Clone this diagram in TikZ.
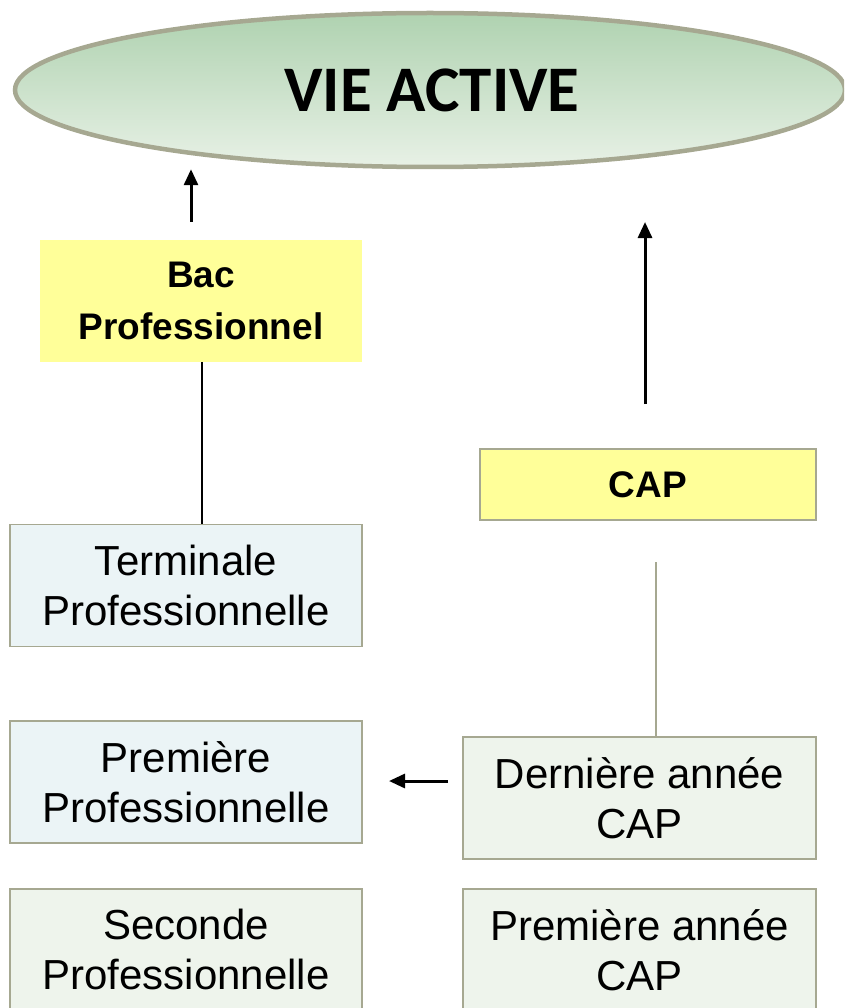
\documentclass[tikz,border=0pt]{standalone}
\usepackage{fontspec}
\setmainfont{Liberation Sans}
\newfontfamily\calibri{Carlito}
\usetikzlibrary{shapes.geometric,arrows.meta}
\definecolor{rim}{HTML}{A6A891}
\definecolor{ovaltop}{HTML}{AFD2B0}
\definecolor{ovalbot}{HTML}{E8F1E6}
\definecolor{diplome}{HTML}{FFFF99}
\definecolor{lycee}{HTML}{EBF4F6}
\definecolor{cap}{HTML}{EEF4EC}
\begin{document}
\begin{tikzpicture}[x=1pt,y=-1pt,
    stage/.style={draw=rim, line width=1.5pt, minimum width=352pt,
      minimum height=122pt, align=center, inner sep=0pt,
      font=\fontsize{42}{50}\selectfont},
    exam/.style={fill=diplome, align=center, inner sep=0pt,
      font=\bfseries\fontsize{37}{52}\selectfont},
    up/.style={-{Triangle[length=16pt,width=14pt]}, line width=3pt}]
  \useasboundingbox (0,0) rectangle (844,1008);
  \clip (0,0) rectangle (844,1008);
  % goal
  \node[ellipse, draw=rim, line width=4.5pt, top color=ovaltop, bottom color=ovalbot,
    minimum width=830pt, minimum height=154pt,
    font=\calibri\bfseries\fontsize{65}{70}\selectfont] (vie) at (430,90) {\hspace*{4pt}VIE ACTIVE};
  % diplomas
  \node[exam, minimum width=322pt, minimum height=122pt] (bac) at (201,301) {Bac\\Professionnel};
  \node[exam, draw=rim, line width=1.5pt, minimum width=336pt, minimum height=71pt] (cap) at (648,484.5) {CAP};
  % years
  \node[stage, fill=lycee] (term) at (186,585.5) {Terminale\\Professionnelle};
  \node[stage, fill=lycee] (prem) at (186,782) {Première\\Professionnelle};
  \node[stage, fill=cap, anchor=north] (sec) at (186,888) {Seconde\\Professionnelle};
  \node[stage, fill=cap, minimum width=353pt] (dern) at (639.5,798) {Dernière année\\CAP};
  \node[stage, fill=cap, minimum width=353pt, anchor=north] (pcap) at (639.5,888) {Première année\\CAP};
  % free ends
  \coordinate (bacup) at (191,222);
  \coordinate (capfoot) at (645,404);
  \coordinate (captip) at (645,222);
  \coordinate (capstub) at (656,562);
  \coordinate (bridge) at (448,781);
  \coordinate (bridgetip) at (389,781);
  \begin{scope}
    \draw[up] (bacup) to (bacup |- vie.south);
    \draw[up] (capfoot) to (captip);
    \draw[up] (bridge) to (bridgetip);
    \draw[line width=1.5pt] (bac.south -| 202,0) to (term.north -| 202,0);
    \draw[rim, line width=1.5pt] (capstub) to (capstub |- dern.north);
  \end{scope}
\end{tikzpicture}
\end{document}
